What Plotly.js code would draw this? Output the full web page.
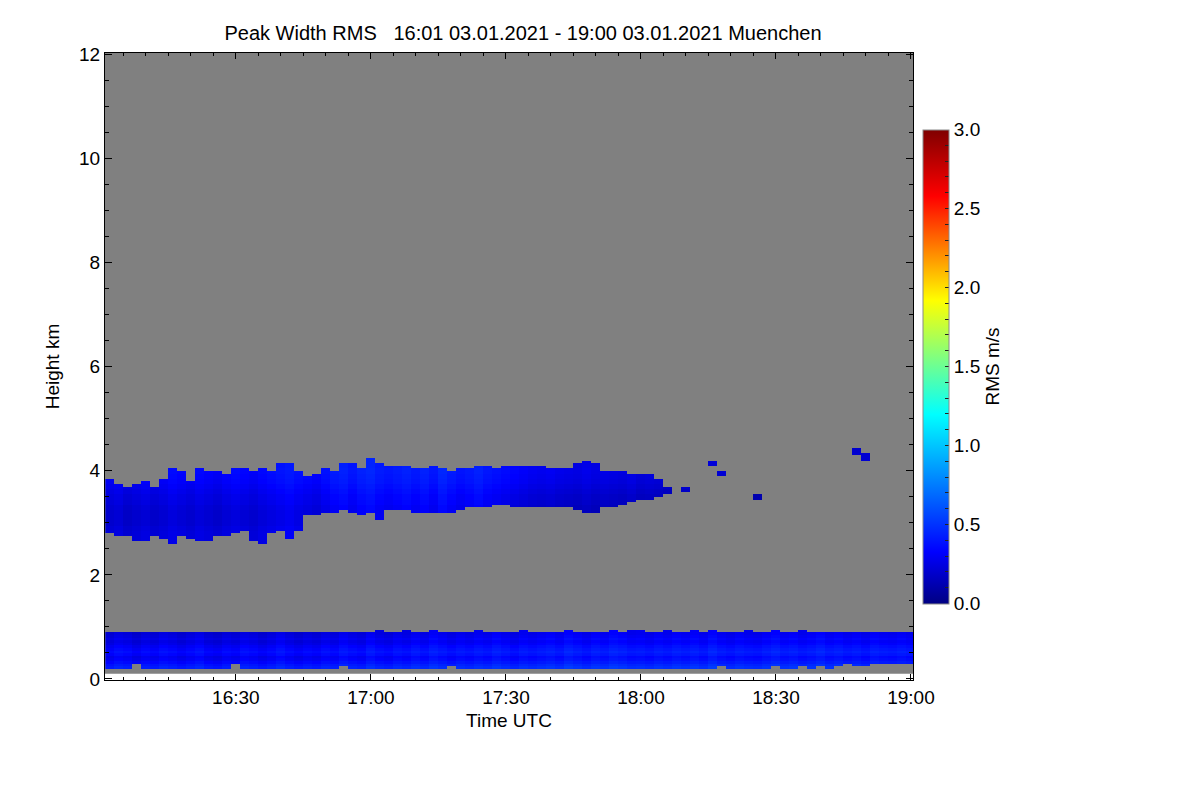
<!DOCTYPE html>
<html><head><meta charset="utf-8">
<script src="https://cdn.plot.ly/plotly-3.0.1.min.js"></script>
<style>html,body{margin:0;padding:0;background:#fff;}#chart{width:1200px;height:800px;}</style>
</head><body><div id="chart"></div>
<script>
// ---- data (2-minute columns centred 16:02 ... 19:00) ----
const columnStart = '2021-01-03 16:02:00';
const columnMinutes = 2;
const heightStart = 0.125, heightStep = 0.05, heightCount = 239; // bins 0.10 .. 12.05 km

// upper cloud layer (km)
const upTop = [3.85,3.75,3.70,3.75,3.80,3.70,3.85,4.05,
  4.00,3.80,4.05,4.00,4.00,3.95,4.05,4.05,
  4.00,4.05,4.00,4.15,4.15,4.00,3.90,3.95,
  4.05,4.00,4.15,4.15,4.05,4.25,4.15,4.10,
  4.10,4.08,4.05,4.05,4.08,4.05,4.02,4.05,
  4.05,4.08,4.12,4.05,4.10,4.10,4.10,4.08,
  4.08,4.05,4.05,4.05,4.15,4.20,4.15,4.00,
  4.00,4.00,3.95,3.95,3.95,3.85,3.70,null,
  3.70,null,null,4.20,3.98,null,null,null,3.55,
  null,null,null,null,null,null,null,null,null,null,
  4.45,4.33,null,null,null,null,null];
const upBot = [2.80,2.75,2.75,2.65,2.65,2.75,2.70,2.60,
  2.75,2.70,2.65,2.65,2.75,2.75,2.80,2.85,
  2.65,2.60,2.80,2.85,2.70,2.85,3.15,3.15,
  3.20,3.20,3.25,3.20,3.15,3.20,3.05,3.25,
  3.25,3.25,3.22,3.22,3.22,3.20,3.20,3.25,
  3.28,3.28,3.30,3.35,3.35,3.32,3.30,3.32,
  3.30,3.30,3.30,3.28,3.25,3.20,3.20,3.28,
  3.30,3.35,3.40,3.45,3.45,3.50,3.55,null,
  3.58,null,null,4.10,3.92,null,null,null,3.45,
  null,null,null,null,null,null,null,null,null,null,
  4.30,4.22,null,null,null,null,null];
const upVal = [0.26,0.28,0.24,0.26,0.28,0.25,0.27,0.30,
  0.28,0.26,0.29,0.27,0.25,0.28,0.30,0.28,
  0.26,0.29,0.31,0.33,0.35,0.32,0.30,0.28,
  0.32,0.36,0.38,0.34,0.38,0.40,0.36,0.34,
  0.36,0.38,0.35,0.38,0.34,0.40,0.36,0.33,
  0.35,0.38,0.34,0.32,0.30,0.28,0.26,0.24,
  0.23,0.24,0.22,0.21,0.20,0.22,0.20,0.21,
  0.20,0.19,0.21,0.18,0.19,0.18,0.16,null,
  0.18,null,null,0.18,0.16,null,null,null,0.14,
  null,null,null,null,null,null,null,null,null,null,
  0.16,0.16,null,null,null,null,null];
// offset by height inside the upper layer, 2.5 .. 4.5 km every 0.1 km
const upProf = [-0.03,-0.03,-0.03,-0.03,-0.04,-0.06,-0.06,-0.06,-0.05,-0.03,
  -0.02,0.00,0.02,0.04,0.05,0.06,0.05,0.05,0.05,0.04,0.04];

// lowest layer (km)
const lowTop = [0.90,0.92,0.90,0.91,0.92,0.90,0.92,0.92,
  0.91,0.90,0.92,0.92,0.90,0.91,0.92,0.90,
  0.92,0.91,0.92,0.90,0.92,0.92,0.91,0.92,
  0.92,0.91,0.90,0.92,0.92,0.91,0.93,0.92,
  0.92,0.93,0.92,0.91,0.93,0.92,0.92,0.91,
  0.92,0.93,0.92,0.91,0.92,0.92,0.93,0.92,
  0.92,0.91,0.92,0.93,0.92,0.92,0.91,0.92,
  0.93,0.92,0.95,0.93,0.92,0.92,0.93,0.92,
  0.92,0.93,0.92,0.93,0.92,0.91,0.92,0.93,
  0.92,0.92,0.93,0.92,0.92,0.93,0.92,0.92,
  0.92,0.91,0.90,0.90,0.91,0.90,0.91,0.90,
  0.91,0.90];
const lowBot = [0.20,0.18,0.22,0.28,0.18,0.20,0.22,0.18,
  0.20,0.18,0.22,0.20,0.18,0.20,0.28,0.20,
  0.18,0.20,0.22,0.18,0.20,0.18,0.20,0.22,
  0.18,0.20,0.25,0.18,0.20,0.18,0.20,0.18,
  0.20,0.22,0.18,0.20,0.18,0.20,0.25,0.20,
  0.18,0.20,0.20,0.22,0.18,0.20,0.18,0.20,
  0.20,0.18,0.22,0.20,0.18,0.20,0.22,0.20,
  0.18,0.20,0.22,0.20,0.18,0.20,0.18,0.20,
  0.20,0.22,0.18,0.20,0.25,0.18,0.18,0.20,
  0.22,0.20,0.25,0.22,0.20,0.25,0.22,0.25,
  0.22,0.25,0.28,0.25,0.25,0.28,0.30,0.28,
  0.30,0.28];
const lowVal = [0.29,0.33,0.31,0.27,0.31,0.29,0.33,0.31,
  0.28,0.31,0.34,0.29,0.27,0.31,0.29,0.33,
  0.31,0.28,0.31,0.35,0.31,0.28,0.31,0.29,
  0.33,0.31,0.36,0.33,0.31,0.37,0.33,0.31,
  0.35,0.33,0.37,0.34,0.39,0.36,0.33,0.36,
  0.34,0.37,0.35,0.39,0.36,0.33,0.37,0.35,
  0.37,0.39,0.36,0.41,0.38,0.35,0.39,0.37,
  0.41,0.39,0.36,0.37,0.35,0.38,0.36,0.39,
  0.37,0.39,0.36,0.41,0.37,0.35,0.38,0.36,
  0.35,0.38,0.41,0.37,0.39,0.36,0.38,0.41,
  0.37,0.39,0.36,0.38,0.35,0.39,0.37,0.36,
  0.38,0.36];
// offset by height inside the lowest layer, bins 0.125 .. 0.925 km
const lowProf = [0.06,0.10,0.12,0.09,0.04,0.00,-0.02,0.03,0.06,0.03,0.00,-0.04,-0.06,-0.03,-0.06,-0.08,-0.08];

// colour bar ticks
const cbTickVals = [0,0.1,0.2,0.3,0.4,0.5,0.6,0.7,0.8,0.9,1.0,1.1,1.2,1.3,1.4,1.5,1.6,1.7,1.8,1.9,2.0,2.1,2.2,2.3,2.4,2.5,2.6,2.7,2.8,2.9,3.0];
const cbTickText = ['0.0','','','','','0.5','','','','','1.0','','','','','1.5','','','','','2.0','','','','','2.5','','','','','3.0'];

// ---- build grid ----
const nCol = upTop.length;
const z = [];
for (let k = 0; k < heightCount; k++) {
  const h = heightStart + k * heightStep;
  const row = [];
  for (let j = 0; j < nCol; j++) {
    let v = null;
    if (h >= lowBot[j] && h <= lowTop[j]) {
      const idx = Math.min(lowProf.length - 1, Math.max(0, Math.round((h - 0.125) / 0.05)));
      v = lowVal[j] + lowProf[idx];
    } else if (upTop[j] !== null && h >= upBot[j] && h <= upTop[j]) {
      const idx = Math.min(upProf.length - 1, Math.max(0, Math.round((h - 2.5) / 0.1)));
      v = upVal[j] + upProf[idx];
    }
    row.push(v);
  }
  z.push(row);
}

const colorscale = [[0,'rgb(0,0,130)'],[0.11,'rgb(0,0,255)'],[0.40,'rgb(0,255,255)'],
  [0.52,'rgb(128,255,128)'],[0.64,'rgb(255,255,0)'],[0.86,'rgb(255,0,0)'],[1,'rgb(128,0,0)']];

const FONT = 'Liberation Sans, Arial, Helvetica, sans-serif';

const trace = {
  type: 'heatmap', z: z,
  x0: columnStart, dx: columnMinutes * 60000,
  y0: heightStart, dy: heightStep,
  zmin: 0, zmax: 3, colorscale: colorscale, hoverongaps: false,
  colorbar: {
    x: 1.012, xanchor: 'left', xpad: 0, ypad: 0,
    y: 0.5, yanchor: 'middle', len: 474, lenmode: 'pixels', thickness: 26,
    outlinewidth: 1, outlinecolor: '#8a8a8a',
    tickmode: 'array', tickvals: cbTickVals, ticktext: cbTickText,
    ticks: 'inside', ticklen: 4, tickcolor: '#222', tickwidth: 1,
    tickfont: {family: FONT, size: 19, color: '#000'},
    title: {text: 'RMS m/s', side: 'right', font: {family: FONT, size: 19, color: '#000'}}
  }
};

const layout = {
  width: 1200, height: 800,
  margin: {l: 105, r: 287, t: 53, b: 120, pad: 0},
  paper_bgcolor: '#fff', plot_bgcolor: '#fff',
  font: {family: FONT, size: 19, color: '#000'},
  title: {text: 'Peak Width RMS\u00a0\u00a0\u00a016:01 03.01.2021 - 19:00 03.01.2021 Muenchen',
    x: 523/1200, xref: 'container', xanchor: 'center', y: 1 - 33/800, yref: 'container', yanchor: 'middle',
    font: {family: FONT, size: 20, color: '#000'}},
  xaxis: {
    type: 'date', range: ['2021-01-03 16:00:55', '2021-01-03 19:00:27'],
    tickmode: 'linear', tick0: '2021-01-03 16:30:00', dtick: 30 * 60000, tickformat: '%H:%M',
    ticks: 'inside', ticklen: 6, tickcolor: '#000', tickwidth: 1,
    minor: {ticks: 'inside', ticklen: 3, dtick: 5 * 60000, tick0: '2021-01-03 16:30:00', tickcolor: '#000', showgrid: false},
    showline: true, linecolor: '#000', linewidth: 1, mirror: 'ticks',
    showgrid: false, zeroline: false, automargin: false,
    tickfont: {family: FONT, size: 19},
    title: {text: 'Time UTC', font: {family: FONT, size: 19}, standoff: 6}
  },
  yaxis: {
    range: [-0.02, 12.03],
    tickmode: 'linear', tick0: 0, dtick: 2,
    ticks: 'inside', ticklen: 7, tickcolor: '#000', tickwidth: 1,
    minor: {ticks: 'inside', ticklen: 4, dtick: 0.5, tickcolor: '#000', showgrid: false},
    showline: true, linecolor: '#000', linewidth: 1, mirror: 'ticks',
    showgrid: false, zeroline: false, automargin: false,
    tickfont: {family: FONT, size: 19},
    title: {text: 'Height km', font: {family: FONT, size: 19}, standoff: 14}
  },
  shapes: [{type: 'rect', xref: 'paper', yref: 'y', x0: 0, x1: 1, y0: 0.1, y1: 12.1,
    fillcolor: 'rgb(128,128,128)', line: {width: 0}, layer: 'below'}]
};

Plotly.newPlot('chart', [trace], layout, {displayModeBar: false, staticPlot: true});
</script></body></html>
